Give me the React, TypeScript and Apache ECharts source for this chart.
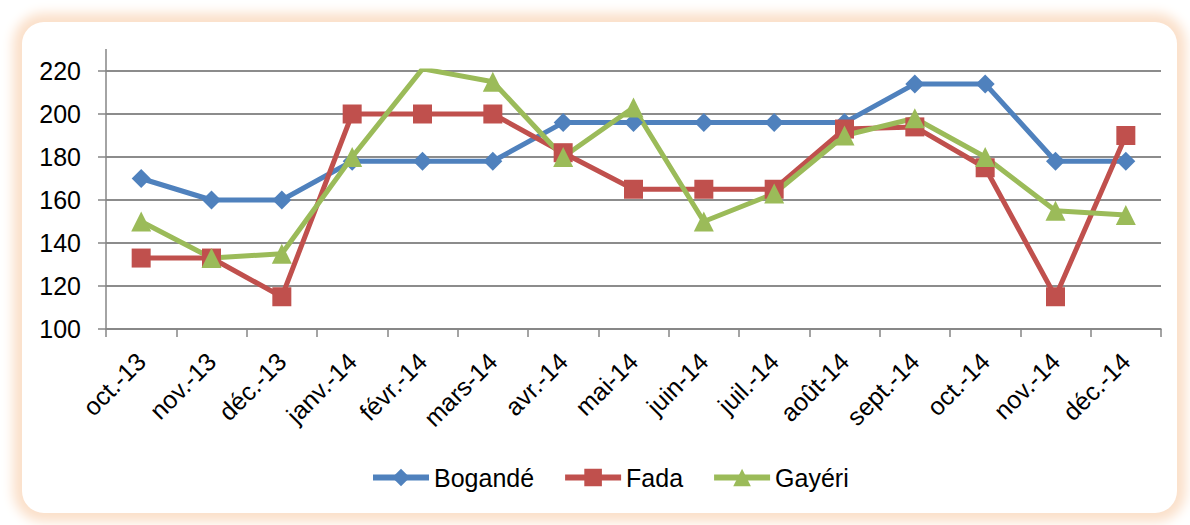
import React, { useEffect, useRef } from "react";
import * as echarts from "echarts";

const categories = [
  "oct.-13", "nov.-13", "déc.-13", "janv.-14", "févr.-14", "mars-14", "avr.-14",
  "mai-14", "juin-14", "juil.-14", "août-14", "sept.-14", "oct.-14", "nov.-14", "déc.-14",
];
const bogande = [170, 160, 160, 178, 178, 178, 196, 196, 196, 196, 196, 214, 214, 178, 178];
const fada = [133, 133, 115, 200, 200, 200, 182, 165, 165, 165, 193, 194, 175, 115, 190];
const gayeri = [150, 133, 135, 180, 221, 215, 180, 203, 150, 163, 190, 198, 180, 155, 153];
const yMin = 100;
const yMax = 220;
const yStep = 20;

const FONT = "'Liberation Sans', Arial, sans-serif";

export default function App() {
  const ref = useRef<HTMLDivElement>(null);
  useEffect(() => {
    if (!ref.current) return;
    const chart = echarts.init(ref.current, null, { renderer: "svg" });
    const mk = (name: string, data: number[], color: string, symbol: string, size: number) => ({
      name,
      type: "line",
      data,
      symbol,
      symbolSize: size,
      itemStyle: { color },
      lineStyle: { color, width: 5 },
    });
    chart.setOption({
      animation: false,
      textStyle: { fontFamily: FONT },
      grid: { left: 106, right: 29, top: 71, bottom: 196 },
      legend: {
        left: 365,
        top: 460,
        itemWidth: 56,
        itemHeight: 22,
        itemGap: 28,
        lineStyle: { width: 6 },
        textStyle: { fontSize: 25, color: "#000", fontFamily: FONT },
        data: ["Bogandé", "Fada", "Gayéri"],
      },
      xAxis: {
        type: "category",
        data: categories,
        boundaryGap: true,
        axisLine: { lineStyle: { color: "#868686", width: 1.5 } },
        axisTick: { show: true, length: 8, lineStyle: { color: "#868686", width: 1.5 } },
        axisLabel: { rotate: 45, margin: 28, fontSize: 25, color: "#000", fontFamily: FONT, interval: 0 },
        splitLine: { show: false },
      },
      yAxis: {
        type: "value",
        min: yMin,
        max: yMax,
        interval: yStep,
        axisLine: { show: true, lineStyle: { color: "#868686", width: 1.5 } },
        axisTick: { show: true, length: 8, lineStyle: { color: "#868686", width: 1.5 } },
        axisLabel: { margin: 25, fontSize: 25, color: "#000", fontFamily: FONT },
        splitLine: { show: true, lineStyle: { color: "#8c8c8c", width: 1.8 } },
      },
      graphic: [
        {
          type: "line",
          shape: { x1: 106, y1: 49, x2: 106, y2: 71 },
          style: { stroke: "#868686", lineWidth: 1.5 },
        },
      ],
      series: [
        mk("Bogandé", bogande, "#4F81BD", "diamond", 19),
        mk("Fada", fada, "#C0504D", "rect", 19),
        mk("Gayéri", gayeri, "#9BBB59", "triangle", 20),
      ],
    });
    return () => chart.dispose();
  }, []);
  return (
    <div
      style={{
        position: "fixed",
        left: 0,
        top: 0,
        width: 1190,
        height: 525,
        background: "#fff",
        overflow: "hidden",
      }}
    >
      <div
        style={{
          position: "absolute",
          left: 22,
          top: 22,
          width: 1155,
          height: 491,
          borderRadius: 22,
          background: "#fff",
          boxShadow: "0 0 12px 9px #FBE0CA",
        }}
      />
      <div ref={ref} style={{ position: "absolute", left: 0, top: 0, width: 1190, height: 525 }} />
    </div>
  );
}
